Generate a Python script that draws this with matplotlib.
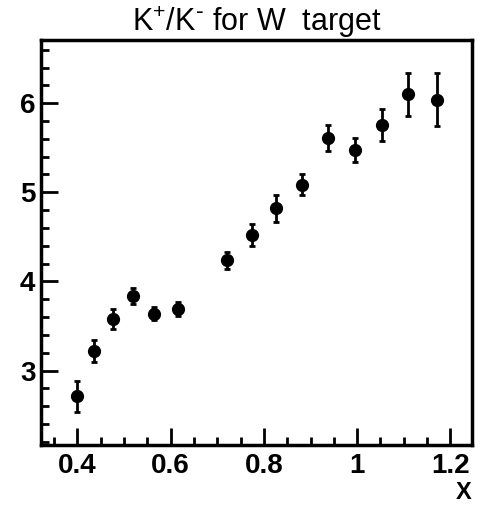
import numpy as np
import matplotlib.pyplot as plt
from matplotlib.ticker import MultipleLocator

plt.rcParams["font.family"] = ["Liberation Sans", "DejaVu Sans"]
plt.rcParams["mathtext.default"] = "regular"

# K+/K- ratio vs x
x = [0.400, 0.436, 0.477, 0.520, 0.565, 0.615, 0.720, 0.774, 0.827,
     0.881, 0.937, 0.995, 1.053, 1.110, 1.171]
ratio = [2.71, 3.22, 3.58, 3.84, 3.64, 3.69, 4.235, 4.52, 4.82,
         5.085, 5.61, 5.47, 5.76, 6.10, 6.04]
err = [0.17, 0.125, 0.11, 0.09, 0.075, 0.08, 0.10, 0.12, 0.15,
       0.12, 0.145, 0.135, 0.18, 0.24, 0.30]

fig = plt.figure(figsize=(4.82, 5.05), dpi=100)
ax = fig.add_axes([0.085, 0.119, 0.894, 0.802])

ax.errorbar(x, ratio, yerr=err, fmt="o", color="black", markersize=8.5,
            elinewidth=2, capsize=2.2, capthick=2)

ax.set_xlim(0.322, 1.246)
ax.set_ylim(2.166, 6.71)

ax.xaxis.set_minor_locator(MultipleLocator(0.05))
ax.yaxis.set_minor_locator(MultipleLocator(0.2))
ax.set_xticks([0.4, 0.6, 0.8, 1.0, 1.2])
ax.set_xticklabels(["0.4", "0.6", "0.8", "1", "1.2"])
ax.set_yticks([3, 4, 5, 6])

ax.tick_params(which="both", direction="in", top=False, right=False,
               width=2, labelsize=20)
ax.tick_params(axis="x", which="major", length=12, pad=6)
ax.tick_params(axis="y", which="major", length=12, pad=4)
ax.tick_params(which="minor", length=6)
for lab in ax.get_xticklabels() + ax.get_yticklabels():
    lab.set_fontweight("bold")

for s in ax.spines.values():
    s.set_linewidth(2.5)

ax.set_title("K$^{+}$/K$^{\\text{-}}$ for W  target", fontsize=22, pad=5)

# axis title sits in the bottom-right corner, under the tick labels
fig.text(0.979, 0.001, "X", fontsize=17, fontweight="bold",
         ha="right", va="bottom")

fig.savefig("out.png", dpi=100)
